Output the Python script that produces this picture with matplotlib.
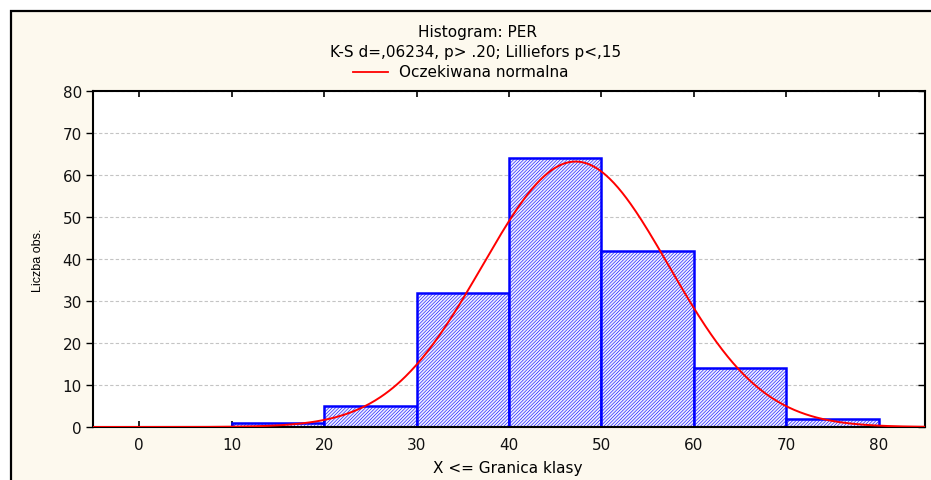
import numpy as np
import matplotlib
matplotlib.use("Agg")
import matplotlib.pyplot as plt
from matplotlib.patches import Rectangle
from matplotlib.lines import Line2D

# ---- data ----
bin_lefts = [10, 20, 30, 40, 50, 60, 70]
counts = [1, 5, 32, 64, 42, 14, 2]
bin_width = 10
x_ticks = [0, 10, 20, 30, 40, 50, 60, 70, 80]
y_ticks = [0, 10, 20, 30, 40, 50, 60, 70, 80]
n_obs = sum(counts)
fit_mean = 47.2
fit_sd = 10.1

title1 = "Histogram: PER"
title2 = "K-S d=,06234, p> .20; Lilliefors p<,15"
legend_label = "Oczekiwana normalna"
xlabel = "X <= Granica klasy"
ylabel = "Liczba obs."

plt.rcParams['hatch.linewidth'] = 0.4
plt.rcParams['font.family'] = ['DejaVu Sans']

W, H = 931, 481
fig = plt.figure(figsize=(W / 100, H / 100), dpi=100)
fig.patch.set_facecolor('white')

# cream panel with black border
panel = Rectangle((11 / W, -0.05), 1.2, 1 - 12 / H + 0.05, transform=fig.transFigure,
                  facecolor='#fdf9ee', edgecolor='black', linewidth=1.6, zorder=-10)
fig.patches.append(panel)

ax = fig.add_axes([93 / W, (H - 428) / H, (925 - 93) / W, (428 - 92) / H])
ax.set_zorder(1)
ax.set_facecolor('white')

ax.bar(bin_lefts, counts, width=bin_width, align='edge', facecolor='#ececff',
       edgecolor='#0000ff', hatch='/' * 10, linewidth=1.8, zorder=2)

xs = np.linspace(-5, 85, 600)
ys = n_obs * bin_width * np.exp(-0.5 * ((xs - fit_mean) / fit_sd) ** 2) / (fit_sd * np.sqrt(2 * np.pi))
ax.plot(xs, ys, color='#ff0000', linewidth=1.4, zorder=3)

ax.set_xlim(-5, 85)
ax.set_ylim(0, 80)
ax.set_xticks(x_ticks)
ax.set_yticks(y_ticks)
ax.tick_params(axis='x', direction='in', length=4, width=1.2, top=True, labelsize=11,
               pad=7, labelcolor='#111111')
ax.tick_params(axis='y', direction='out', length=5, width=1.0, labelsize=11, pad=3,
               right=True, labelcolor='#111111')
# right ticks point inward
for t in ax.yaxis.get_major_ticks():
    t.tick2line.set_marker(matplotlib.markers.TICKLEFT)
    t.tick2line.set_markersize(5)

for s in ax.spines.values():
    s.set_linewidth(1.5)
    s.set_color('black')

ax.grid(axis='y', linestyle=(0, (3, 2)), color='#c4c4c4', linewidth=0.8, zorder=0)
ax.set_axisbelow(True)

fs_title = 11
fig.text(477 / W, 1 - 32 / H, title1, ha='center', va='center', fontsize=fs_title)
fig.text(476 / W, 1 - 52 / H, title2, ha='center', va='center', fontsize=fs_title)
fig.add_artist(Line2D([353 / W, 388 / W], [1 - 73 / H, 1 - 73 / H], color='#ff0000',
                      linewidth=1.3, transform=fig.transFigure))
fig.text(399 / W, 1 - 73 / H, legend_label, ha='left', va='center', fontsize=fs_title)

fig.text(508 / W, 1 - 469 / H, xlabel, ha='center', va='center', fontsize=11)
fig.text(38 / W, 1 - 260 / H, ylabel, ha='center', va='center', rotation=90,
         fontsize=9, family=['Liberation Sans'])

fig.savefig('out.png', dpi=100, facecolor=fig.get_facecolor())
